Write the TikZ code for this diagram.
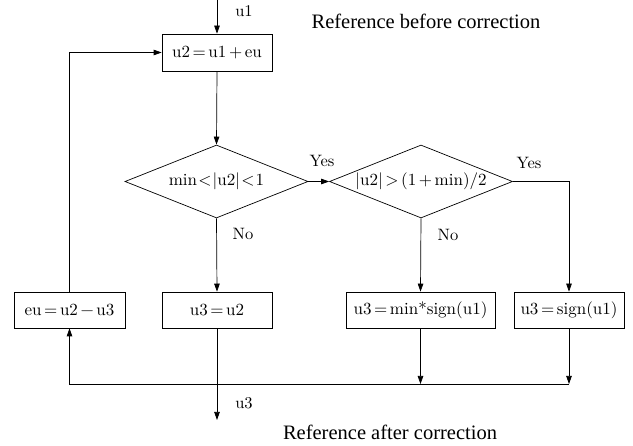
\documentclass[tikz,border=0pt]{standalone}
\usepackage{fontspec}
\newfontfamily\titlefont{Liberation Serif}
\newfontfamily\boxfont{lmroman10-regular.otf}
\usetikzlibrary{shapes.geometric,arrows.meta}
\newcommand\gap{\kern2.6pt}
\newcommand\sgap{\kern1.2pt}
\begin{document}
\begin{tikzpicture}[x=1pt,y=-1pt,
  line width=0.7pt,
  every node/.style={font=\boxfont\fontsize{16.5}{19}\selectfont},
  boxtext/.style={font=\boxfont\fontsize{17}{20}\selectfont},
  flowbox/.style={draw, rectangle, inner sep=0pt, minimum height=36pt, boxtext},
  decision/.style={draw, diamond, inner sep=0pt, aspect=2.5, minimum width=183pt, minimum height=73pt, boxtext},
  arr/.style={-{Triangle[length=8pt,width=5.5pt]}},
  lbl/.style={inner sep=0pt},
  ttl/.style={inner sep=0pt, anchor=base, font=\titlefont\fontsize{20.5}{24}\selectfont}]
\useasboundingbox (0,0) rectangle (633,446);

% nodes
\node[flowbox, minimum width=110pt, minimum height=37pt] (u2box) at (217,52.5) {u2\gap=\gap u1\gap+\gap eu};
\node[decision] (d1) at (216.5,181.5) {min\sgap<\sgap|u2|\sgap<\sgap1};
\node[decision] (d2) at (421,181.5) {|u2|\gap>\gap(1\gap+\gap min)/2};
\node[flowbox, minimum width=111pt] (eubox) at (69.5,310) {eu\gap=\gap u2\gap\symbol{"2212}\gap u3};
\node[flowbox, minimum width=110pt] (u3box) at (217,310) {u3\gap=\gap u2};
\node[flowbox, minimum width=149pt] (minbox) at (420.5,310) {u3\gap=\gap min*sign(u1)};
\node[flowbox, minimum width=110pt] (signbox) at (569,310) {u3\gap=\gap sign(u1)};

% free ends / junctions
\coordinate (in) at (217,0);
\coordinate (out) at (217,420);
\coordinate (jmin) at (420.5,384);
\coordinate (jsign) at (569,384);
\coordinate (jeu) at (69.5,384);

% connectors
\draw[arr] (in) -- (u2box.north);
\draw[arr] (u2box.south) -- (d1.north);
\draw[arr] (d1.east) -- (d2.west);
\draw[arr] (d1.south) -- (u3box.north);
\draw[arr] (d2.south) -- (minbox.north);
\draw[arr] (d2.east) -| (signbox.north);
\draw[arr] (eubox.north) |- (u2box.west);
\draw[arr] (minbox.south) -- (jmin);
\draw[arr] (signbox.south) -- (jsign);
\draw[arr] (jsign) -- (jeu) -- (eubox.south);
\draw[arr] (u3box.south) -- (out);

% labels
\node[lbl] (lu1) at (244,11) {u1};
\node[lbl] (lyes1) at (322,161) {Yes};
\node[lbl] (lyes2) at (529,163) {Yes};
\node[lbl] (lno1) at (243,234) {No};
\node[lbl] (lno2) at (448,235) {No};
\node[lbl] (lu3) at (244,403) {u3};

% titles
\node[ttl] (tbefore) at (426,29) {Reference before correction};
\node[ttl] (tafter) at (390,440) {Reference after correction};
\end{tikzpicture}
\end{document}
